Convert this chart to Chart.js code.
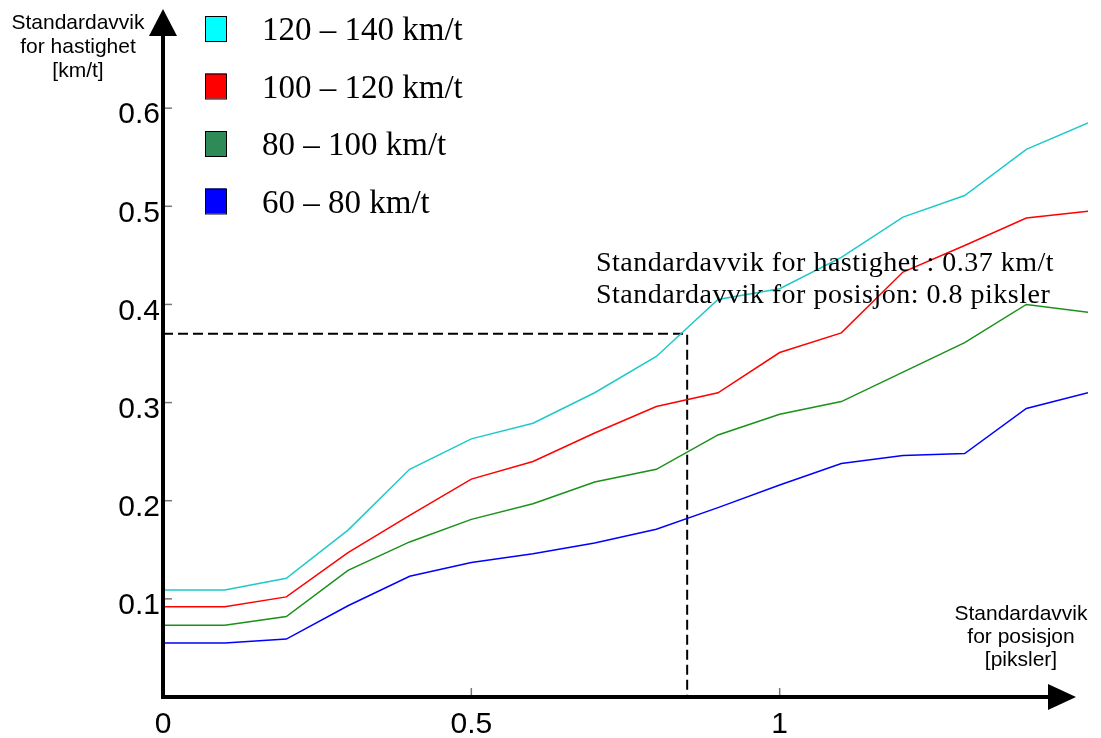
<!DOCTYPE html>
<html>
<head>
<meta charset="utf-8">
<script src="https://cdn.jsdelivr.net/npm/chart.js@4"></script>
<style>
  html, body { margin: 0; padding: 0; background: #fff; }
  #myChart { display: block; }
</style>
</head>
<body>
<canvas id="myChart" width="1101" height="738"></canvas>
<script>
// standardavvik for posisjon [piksler]
const posisjon = [0, 0.1, 0.2, 0.3, 0.4, 0.5, 0.6, 0.7, 0.8, 0.9, 1.0, 1.1, 1.2, 1.3, 1.4, 1.5]

// standardavvik for hastighet [km/t], en serie per fartsintervall
const fart120_140 = [0.109, 0.109, 0.121, 0.170, 0.232, 0.263, 0.279, 0.310, 0.347, 0.405, 0.416, 0.448, 0.489, 0.511, 0.558, 0.585]
const fart100_120 = [0.092, 0.092, 0.102, 0.147, 0.185, 0.222, 0.240, 0.269, 0.296, 0.310, 0.351, 0.371, 0.433, 0.460, 0.488, 0.495]
const fart80_100 = [0.073, 0.073, 0.082, 0.129, 0.158, 0.181, 0.197, 0.219, 0.232, 0.267, 0.288, 0.301, 0.331, 0.361, 0.400, 0.392]
const fart60_80 = [0.055, 0.055, 0.059, 0.093, 0.123, 0.137, 0.146, 0.157, 0.171, 0.193, 0.216, 0.238, 0.246, 0.248, 0.294, 0.310]

const navn = ['120 – 140 km/t', '100 – 120 km/t', '80 – 100 km/t', '60 – 80 km/t']
const linjeFarger = ['#1fc9c9', '#ff0000', '#1a911a', '#0000ff']
const boksFarger = ['#00ffff', '#ff0000', '#2e8b57', '#0000ff']

// avlesning: 0.8 piksler gir 0.37 km/t
const avlestX = [0, 0.85, 0.85]
const avlestY = [0.37, 0.37, 0]

const yTicks = [0.1, 0.2, 0.3, 0.4, 0.5, 0.6]
const xTicks = [0, 0.5, 1]

const ctx = document.getElementById('myChart')

const serier = [fart120_140, fart100_120, fart80_100, fart60_80]
const datasets = serier.map((s, i) => ({
  label: navn[i],
  data: posisjon.map((x, j) => ({ x: x, y: s[j] })),
  borderColor: linjeFarger[i],
  borderWidth: 1.5,
  pointRadius: 0,
  fill: false,
  tension: 0
}))
datasets.push({
  label: 'avlesning',
  data: avlestX.map((x, j) => ({ x: x, y: avlestY[j] })),
  borderColor: '#000',
  borderWidth: 2,
  borderDash: [10, 5],
  pointRadius: 0,
  fill: false
})

const sans = '"Liberation Sans", Arial, sans-serif'
const serif = '"Liberation Serif", "Times New Roman", serif'

// akser med piler, tittelbokser, forklaring og tekst
const tegnPlugin = {
  id: 'tegn',
  afterDatasetsDraw(chart) {
    const c = chart.ctx
    const xs = chart.scales.x
    const ys = chart.scales.y
    const x0 = xs.getPixelForValue(0)
    const y0 = ys.getPixelForValue(0)
    c.save()

    // små tick-streker innover
    c.strokeStyle = '#777'
    c.lineWidth = 1.5
    yTicks.forEach(v => {
      const py = ys.getPixelForValue(v)
      c.beginPath(); c.moveTo(x0, py); c.lineTo(x0 + 9, py); c.stroke()
    })
    xTicks.forEach(v => {
      if (v === 0) return
      const px = xs.getPixelForValue(v)
      c.beginPath(); c.moveTo(px, y0); c.lineTo(px, y0 - 9); c.stroke()
    })

    // aksene
    c.strokeStyle = '#000'
    c.fillStyle = '#000'
    c.lineWidth = 4
    c.beginPath(); c.moveTo(x0, y0 + 2); c.lineTo(x0, 34); c.stroke()
    c.beginPath(); c.moveTo(x0 - 2, y0); c.lineTo(1050, y0); c.stroke()
    c.beginPath(); c.moveTo(x0, 9); c.lineTo(x0 - 14, 36); c.lineTo(x0 + 14, 36); c.closePath(); c.fill()
    c.beginPath(); c.moveTo(1076, y0); c.lineTo(1048, y0 - 13); c.lineTo(1048, y0 + 13); c.closePath(); c.fill()

    // aksetitler
    c.font = '21px ' + sans
    c.textAlign = 'center'
    c.textBaseline = 'alphabetic'
    ;['Standardavvik', 'for hastighet', '[km/t]'].forEach((t, i) => c.fillText(t, 78, 29 + i * 24))
    ;['Standardavvik', 'for posisjon', '[piksler]'].forEach((t, i) => c.fillText(t, 1021, 620 + i * 23))

    // forklaring
    c.textAlign = 'left'
    c.font = '33px ' + serif
    navn.forEach((t, i) => {
      const top = 16 + i * 57.5
      c.fillStyle = boksFarger[i]
      c.fillRect(205, top, 21, 25)
      c.strokeStyle = '#000'
      c.lineWidth = 1
      c.strokeRect(205.5, top + 0.5, 21, 25)
      c.fillStyle = '#000'
      c.fillText(t, 262, top + 24)
    })

    // avlest verdi
    c.font = '28px ' + serif
    c.letterSpacing = '0.5px'
    c.fillText('Standardavvik for hastighet : ' + avlestY[0] + ' km/t', 596, 271)
    c.fillText('Standardavvik for posisjon: 0.8 piksler', 596, 303)
    c.restore()
  }
}

const config = {
  type: 'line',
  data: { datasets: datasets },
  options: {
    responsive: false,
    animation: false,
    devicePixelRatio: 1,
    layout: { padding: { top: 10, right: 13, left: 0, bottom: 0 } },
    plugins: { legend: { display: false }, tooltip: { enabled: false } },
    scales: {
      x: {
        type: 'linear',
        min: 0,
        max: 1.5,
        afterFit: s => { s.height = 41; s.paddingLeft = 0; s.paddingRight = 0 },
        grid: { display: false, drawTicks: false },
        border: { display: false },
        ticks: {
          stepSize: 0.5,
          autoSkip: false,
          maxRotation: 0,
          padding: 10,
          color: '#000',
          font: { family: sans, size: 30 },
          callback: v => xTicks.includes(v) ? String(v) : ''
        }
      },
      y: {
        min: 0,
        max: 0.7,
        afterFit: s => { s.width = 163; s.paddingTop = 0; s.paddingBottom = 0 },
        grid: { display: false, drawTicks: false },
        border: { display: false },
        ticks: {
          stepSize: 0.1,
          autoSkip: false,
          padding: 3,
          labelOffset: 7,
          color: '#000',
          font: { family: sans, size: 30 },
          callback: v => {
            const r = Math.round(v * 10) / 10
            return yTicks.includes(r) ? String(r) : ''
          }
        }
      }
    }
  },
  plugins: [tegnPlugin]
}

const myChart = new Chart(ctx, config)
</script>
</body>
</html>
